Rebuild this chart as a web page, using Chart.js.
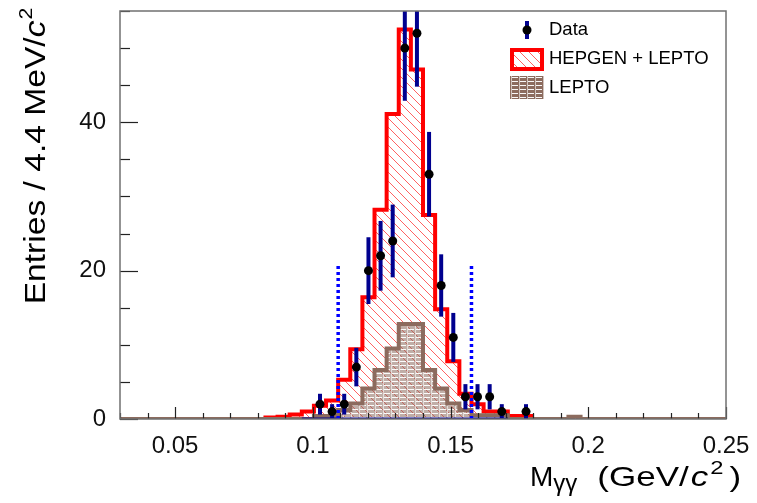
<!DOCTYPE html>
<html>
<head>
<meta charset="utf-8">
<script src="https://cdn.jsdelivr.net/npm/chart.js@4/dist/chart.umd.min.js"></script>
<style>
  html, body { margin: 0; padding: 0; background: #fff; }
  #wrap { width: 757px; height: 503px; }
</style>
</head>
<body>
<div id="wrap"><canvas id="massChart" width="757" height="503"></canvas></div>
<script>
// Binning: 50 bins of 4.4 MeV from 0.03 to 0.25 GeV
const binLow = 0.03, binWidth = 0.0044, nBins = 50;

// HEPGEN + LEPTO (red hatched), one value per bin
const hepgenLepto = [
  0, 0, 0, 0, 0, 0, 0, 0, 0, 0,
  0, 0, 0.2, 0.3, 0.6, 1.0, 1.8, 2.5, 5.3, 9.4,
  16.4, 28.2, 41.1, 52.5, 47.1, 27.5, 14.8, 7.8, 3.4, 2.0,
  1.0, 1.0, 0.4, 0.4, 0, 0, 0, 0, 0, 0,
  0, 0, 0, 0, 0, 0, 0, 0, 0, 0
];

// LEPTO only (brown)
const lepto = [
  0, 0, 0, 0, 0, 0, 0, 0, 0, 0,
  0, 0, 0, 0, 0, 0, 0.4, 0.4, 1.2, 2.1,
  4.1, 6.6, 9.5, 12.8, 12.8, 6.6, 4.1, 2.1, 1.2, 0.5,
  0.5, 0.5, 0, 0, 0, 0, 0, 0.3, 0, 0,
  0, 0, 0, 0, 0, 0, 0, 0, 0, 0
];

// Data counts and their error bars
const dataCounts = [
  0, 0, 0, 0, 0, 0, 0, 0, 0, 0,
  0, 0, 0, 0, 0, 0, 2, 1, 2, 7,
  20, 22, 24, 50, 52, 33, 18, 11, 3, 3,
  3, 1, 0, 1, 0, 0, 0, 0, 0, 0,
  0, 0, 0, 0, 0, 0, 0, 0, 0, 0
];
const dataErrors = [
  0, 0, 0, 0, 0, 0, 0, 0, 0, 0,
  0, 0, 0, 0, 0, 0, 1.4, 1.0, 1.4, 2.6,
  4.5, 4.7, 4.9, 7.1, 7.2, 5.7, 4.2, 3.3, 1.7, 1.7,
  1.7, 1.0, 0, 1.0, 0, 0, 0, 0, 0, 0,
  0, 0, 0, 0, 0, 0, 0, 0, 0, 0
];

// signal window cuts
const cutPositions = [0.1092, 0.1576];
const cutHeight = 21;
const dataBaseRange = [15, 32]; // bin edges of the blue line at zero

const xMajorTicks = [0.05, 0.1, 0.15, 0.2, 0.25];
const yMajorTicks = [0, 20, 40];

const redColor = '#ff0000',
  hatchColor = 'rgba(255,70,70,0.85)',
  brownColor = '#8c6b5e',
  navyColor = '#00008f',
  cutColor = '#0000ff',
  frameColor = '#707070';
const fontFamily = "'Liberation Sans', Arial, sans-serif";

const edges = [];
for (let i = 0; i <= nBins; i++) edges.push(binLow + i * binWidth);

function stepPoints(values) {
  const pts = values.map(function(v, i) { return { x: edges[i], y: v }; });
  pts.push({ x: edges[nBins], y: values[nBins - 1] });
  return pts;
}

function isMajor(v, list) {
  return list.some(function(m) { return Math.abs(v - m) < 1e-7; });
}

// fill patterns
function hatchPattern(ctx) {
  const c = document.createElement('canvas');
  c.width = 9; c.height = 9;
  const g = c.getContext('2d');
  g.strokeStyle = hatchColor;
  g.lineWidth = 1;
  [-9, 0, 9].forEach(function(k) {
    g.beginPath();
    g.moveTo(k, 0);
    g.lineTo(k + 9, 9);
    g.stroke();
  });
  return ctx.createPattern(c, 'repeat');
}

function leptoPattern(ctx, solid) {
  const c = document.createElement('canvas');
  c.width = 8; c.height = 4;
  const g = c.getContext('2d');
  g.fillStyle = solid ? brownColor : 'rgba(140,107,94,0.55)';
  g.fillRect(0, 0, 8, 4);
  g.fillStyle = 'rgba(255,255,255,0.95)';
  g.fillRect(0, 1, 6, 1);
  g.fillStyle = 'rgba(255,255,255,0.6)';
  g.fillRect(7, 0, 1, 4);
  return ctx.createPattern(c, 'repeat');
}

const canvas = document.getElementById('massChart');
const ctx0 = canvas.getContext('2d');
const redHatch = hatchPattern(ctx0);
const brownFill = leptoPattern(ctx0, false);
const brownLegendFill = leptoPattern(ctx0, true);

const dataPoints = [];
dataCounts.forEach(function(n, i) {
  if (n > 0) dataPoints.push({ x: (edges[i] + edges[i + 1]) / 2, y: n, err: dataErrors[i] });
});

// error bars drawn just before the data markers
const errorBars = {
  id: 'errorBars',
  beforeDatasetDraw(chart, args) {
    if (args.index !== 0) return;
    const { ctx, scales: { x, y } } = chart;
    ctx.save();
    ctx.beginPath();
    ctx.rect(chart.chartArea.left, chart.chartArea.top, chart.chartArea.width, chart.chartArea.height);
    ctx.clip();
    ctx.strokeStyle = navyColor;
    ctx.lineWidth = 4;
    dataPoints.forEach(function(p) {
      const px = x.getPixelForValue(p.x);
      ctx.beginPath();
      ctx.moveTo(px, y.getPixelForValue(p.y - p.err));
      ctx.lineTo(px, y.getPixelForValue(p.y + p.err));
      ctx.stroke();
    });
    ctx.restore();
  }
};

// draw a run of text pieces, each one stretched a little along the writing direction
function drawPieces(ctx, pieces, stretch) {
  let cx = 0;
  pieces.forEach(function(p) {
    const s = p.stretch || stretch;
    ctx.font = p.font;
    cx += p.gap || 0;
    ctx.save();
    ctx.scale(s, 1);
    ctx.fillText(p.text, cx / s, p.dy || 0);
    ctx.restore();
    cx += ctx.measureText(p.text).width * s;
  });
  return cx;
}

function piecesWidth(ctx, pieces, stretch) {
  let w = 0;
  pieces.forEach(function(p) {
    ctx.font = p.font;
    w += (p.gap || 0) + ctx.measureText(p.text).width * (p.stretch || stretch);
  });
  return w;
}

// frame, inside ticks, legend and axis titles
const decorations = {
  id: 'decorations',
  afterDatasetsDraw(chart) {
    const { ctx, chartArea: a, scales: { x, y } } = chart;
    ctx.save();
    ctx.strokeStyle = '#222';
    ctx.lineWidth = 1.2;
    x.ticks.forEach(function(t) {
      const px = Math.round(x.getPixelForValue(t.value)) + 0.5;
      const len = isMajor(t.value, xMajorTicks) ? 12 : 6;
      ctx.beginPath();
      ctx.moveTo(px, a.bottom);
      ctx.lineTo(px, a.bottom - len);
      ctx.stroke();
    });
    y.ticks.forEach(function(t) {
      const py = Math.round(y.getPixelForValue(t.value)) + 0.5;
      const len = isMajor(t.value, yMajorTicks) ? 18 : 10;
      ctx.beginPath();
      ctx.moveTo(a.left, py);
      ctx.lineTo(a.left + len, py);
      ctx.stroke();
    });
    ctx.strokeStyle = frameColor;
    ctx.lineWidth = 1.5;
    ctx.strokeRect(a.left, a.top, a.right - a.left, a.bottom - a.top);
    ctx.restore();
  },
  afterDraw(chart) {
    const { ctx } = chart;
    ctx.save();
    // legend
    ctx.fillStyle = '#000';
    ctx.font = '18.5px ' + fontFamily;
    ctx.textBaseline = 'middle';
    ctx.fillText('Data', 549, 30);
    ctx.fillText('HEPGEN + LEPTO', 549, 59);
    ctx.fillText('LEPTO', 549, 88);
    ctx.strokeStyle = navyColor;
    ctx.lineWidth = 4;
    ctx.beginPath();
    ctx.moveTo(527, 21); ctx.lineTo(527, 39);
    ctx.stroke();
    ctx.fillStyle = '#000';
    ctx.beginPath();
    ctx.arc(527, 30, 4.5, 0, Math.PI * 2);
    ctx.fill();
    ctx.fillStyle = '#fff';
    ctx.fillRect(512, 50, 30, 19);
    ctx.fillStyle = redHatch;
    ctx.fillRect(512, 50, 30, 19);
    ctx.strokeStyle = redColor;
    ctx.lineWidth = 4;
    ctx.strokeRect(512, 50, 30, 19);
    ctx.fillStyle = brownLegendFill;
    ctx.fillRect(510, 76, 34, 23);

    // y title
    ctx.fillStyle = '#000';
    ctx.textBaseline = 'alphabetic';
    const yPieces = [
      { text: 'Entries / 4.4 MeV/', font: '30px ' + fontFamily },
      { text: 'c', font: 'italic 30px ' + fontFamily },
      { text: '2', font: '19px ' + fontFamily, dy: -13, gap: 1 }
    ];
    const yStretch = 1.12;
    ctx.translate(45, 156);
    ctx.rotate(-Math.PI / 2);
    ctx.translate(-piecesWidth(ctx, yPieces, yStretch) / 2, 0);
    drawPieces(ctx, yPieces, yStretch);
    ctx.setTransform(1, 0, 0, 1, 0, 0);

    // x title
    ctx.translate(530, 486);
    drawPieces(ctx, [
      { text: 'M', font: '28px ' + fontFamily, stretch: 1.0 },
      { text: '\u03b3\u03b3', font: '24px ' + fontFamily, dy: 5, stretch: 1.0 },
      { text: '(GeV/', font: '28px ' + fontFamily, gap: 20 },
      { text: 'c', font: 'italic 28px ' + fontFamily, gap: 2 },
      { text: '2', font: '19px ' + fontFamily, dy: -12, gap: 2 },
      { text: ')', font: '28px ' + fontFamily, gap: 6 }
    ], 1.25);
    ctx.restore();
  }
};

new Chart(canvas, {
  type: 'line',
  data: {
    datasets: [
      {
        label: 'Data',
        data: dataPoints,
        showLine: false,
        pointRadius: 4.5,
        pointBackgroundColor: '#000',
        pointBorderWidth: 0,
        order: 0
      },
      {
        label: 'cut low',
        data: [{ x: cutPositions[0], y: 0 }, { x: cutPositions[0], y: cutHeight }],
        borderColor: cutColor,
        borderWidth: 3.5,
        borderDash: [3, 3],
        pointRadius: 0,
        order: 1
      },
      {
        label: 'cut high',
        data: [{ x: cutPositions[1], y: 0 }, { x: cutPositions[1], y: cutHeight }],
        borderColor: cutColor,
        borderWidth: 3.5,
        borderDash: [3, 3],
        pointRadius: 0,
        order: 1
      },
      {
        label: 'data zero',
        data: [{ x: edges[dataBaseRange[0]], y: 0 }, { x: edges[dataBaseRange[1]], y: 0 }],
        borderColor: navyColor,
        borderWidth: 3,
        pointRadius: 0,
        order: 2
      },
      {
        label: 'LEPTO',
        data: stepPoints(lepto),
        stepped: true,
        borderColor: brownColor,
        borderWidth: 4,
        backgroundColor: brownFill,
        fill: 'origin',
        pointRadius: 0,
        order: 3
      },
      {
        label: 'HEPGEN + LEPTO',
        data: stepPoints(hepgenLepto),
        stepped: true,
        borderColor: redColor,
        borderWidth: 4,
        backgroundColor: redHatch,
        fill: 'origin',
        pointRadius: 0,
        order: 4
      }
    ]
  },
  options: {
    responsive: false,
    animation: false,
    layout: { padding: { top: 11, right: 31, left: 0, bottom: 0 } },
    plugins: {
      legend: { display: false },
      tooltip: { enabled: false }
    },
    scales: {
      x: {
        type: 'linear',
        min: 0.03,
        max: 0.25,
        grid: { display: false, drawTicks: false },
        border: { display: false },
        ticks: {
          stepSize: 0.01,
          autoSkip: false,
          maxRotation: 0,
          padding: 13,
          color: '#111',
          font: { family: fontFamily, size: 24 },
          callback: function(v) {
            return isMajor(v, xMajorTicks) ? String(parseFloat(v.toFixed(2))) : '';
          }
        },
        afterFit: function(scale) {
          scale.height = 84;
          scale.paddingLeft = 0;
          scale.paddingRight = 0;
        }
      },
      y: {
        min: 0,
        max: 55,
        grid: { display: false, drawTicks: false },
        border: { display: false },
        ticks: {
          stepSize: 5,
          autoSkip: false,
          padding: 14,
          color: '#111',
          font: { family: fontFamily, size: 24 },
          callback: function(v) {
            return isMajor(v, yMajorTicks) ? String(v) : '';
          }
        },
        afterFit: function(scale) {
          scale.width = 120;
          scale.paddingTop = 0;
          scale.paddingBottom = 0;
        }
      }
    }
  },
  plugins: [errorBars, decorations]
});
</script>
</body>
</html>
